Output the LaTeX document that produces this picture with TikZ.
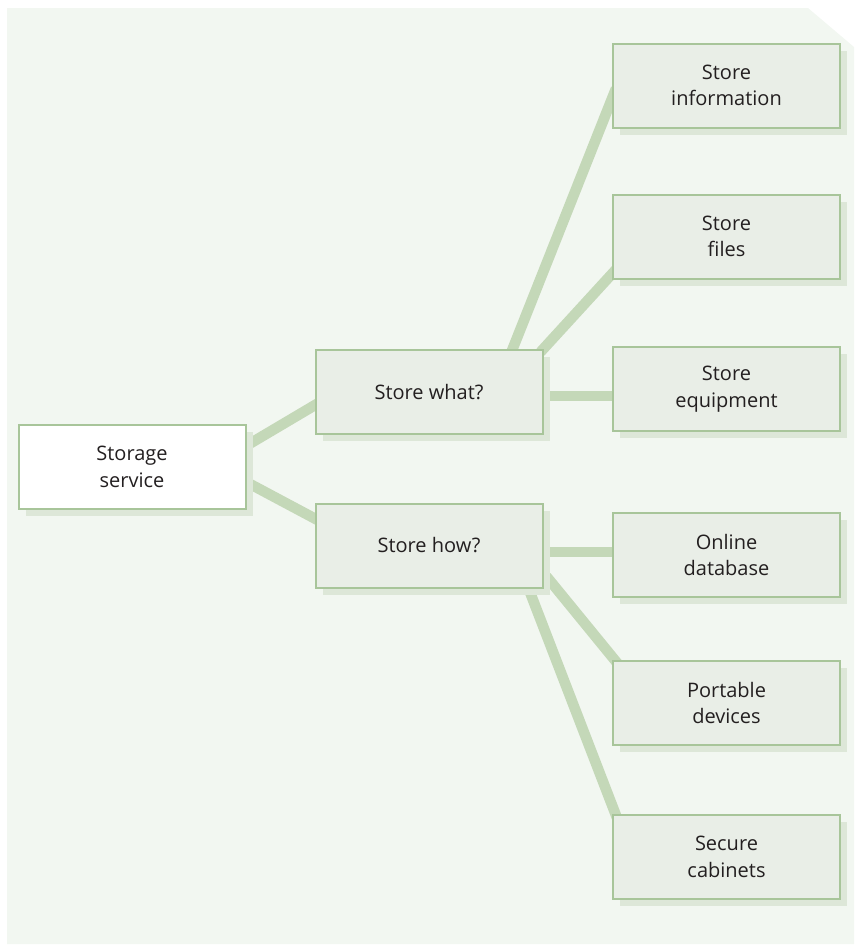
\documentclass[tikz,border=0pt]{standalone}
\usepackage{fontspec}
\setmainfont{Open Sans}
\usetikzlibrary{shadows,backgrounds,calc}
\definecolor{panelbg}{HTML}{F2F7F1}
\definecolor{boxfill}{HTML}{E9EEE7}
\definecolor{boxline}{HTML}{A8C59A}
\definecolor{shade}{HTML}{DDE7D8}
\definecolor{linkc}{HTML}{C4D8B8}
\definecolor{ink}{HTML}{231F20}
\begin{document}
\begin{tikzpicture}[x=1pt,y=-1pt,
  box/.style={draw=boxline, line width=2pt, fill=boxfill,
    minimum width=227pt, minimum height=84pt, inner sep=0pt,
    align=center, text=ink, font=\fontsize{20pt}{26.5pt}\selectfont,
    general shadow={fill=shade, shadow xshift=7pt, shadow yshift=-7pt}},
  rootbox/.style={box, fill=white},
  link/.style={draw=linkc, line width=10.5pt}]
\useasboundingbox (0,0) rectangle (854,945);

% boxes
\node[rootbox] (storage) at (132,467) {Storage\\service};
\node[box] (what) at (429,392) {Store what?};
\node[box] (how) at (429,545.5) {Store how?};
\node[box] (info) at (726.5,85.5) {Store\\information};
\node[box] (files) at (726.5,236.5) {Store\\files};
\node[box] (equip) at (726.5,389) {Store\\equipment};
\node[box] (online) at (726.5,555) {Online\\database};
\node[box] (portable) at (726.5,703) {Portable\\devices};
\node[box] (secure) at (726.5,857) {Secure\\cabinets};

\begin{scope}[on background layer]
  % panel with clipped top-right corner
  \fill[panelbg] (7,8) -- (808,8) -- (854,47) -- (854,944) -- (7,944) -- cycle;
  % connectors
  \draw[link] ($(storage.east)+(-4,-19)$) -- ($(what.west)+(4,11)$);
  \draw[link] ($(storage.east)+(-4,13)$) -- ($(how.west)+(4,-25)$);
  \draw[link] ($(what.north)+(82,4)$) -- ($(info.west)+(4,3)$);
  \draw[link] ($(what.north east)+(-3,3)$) -- ($(files.west)+(4,33)$);
  \draw[link] ($(what.east)+(-4,4)$) -- ($(equip.west)+(4,7)$);
  \draw[link] ($(how.east)+(-4,6.5)$) -- ($(online.west)+(4,-3)$);
  \draw[link] ($(how.south east)+(3,-12)$) -- ($(portable.north west)+(6,4)$);
  \draw[link] ($(how.south)+(98,-4)$) -- ($(secure.north west)+(5,4)$);
\end{scope}
\end{tikzpicture}
\end{document}
